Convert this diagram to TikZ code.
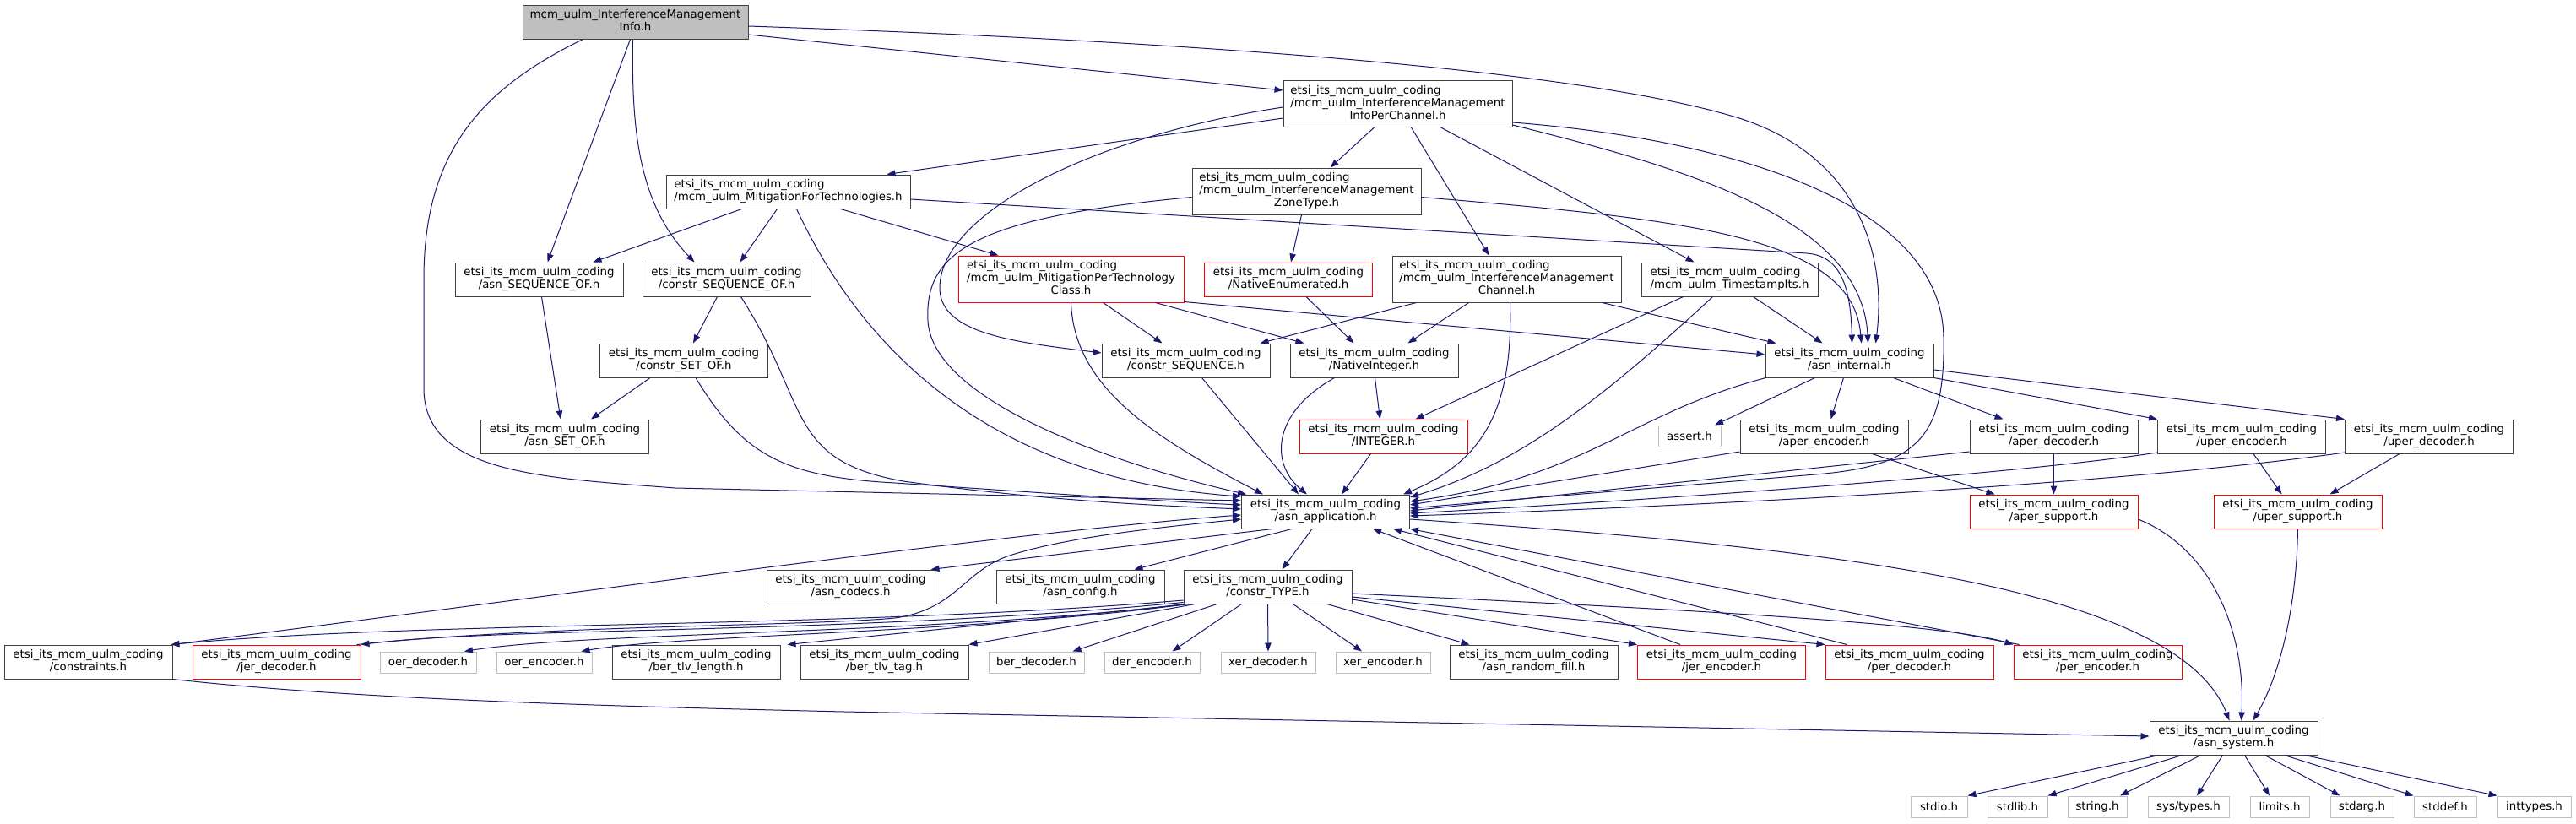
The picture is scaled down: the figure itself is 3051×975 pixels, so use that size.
\documentclass[tikz,border=0pt]{standalone}
\usepackage{fontspec}
\setmainfont{DejaVu Sans}
\usetikzlibrary{arrows.meta,calc}
\definecolor{edgec}{HTML}{191970}
\definecolor{boxc}{HTML}{404040}
\definecolor{greyb}{HTML}{BFBFBF}
\definecolor{rootf}{HTML}{BFBFBF}
\newcommand\twoln[2]{\begin{tabular}{@{}l@{}}#1\\\multicolumn{1}{@{}c@{}}{#2}\end{tabular}}
\newcommand\threeln[3]{\begin{tabular}{@{}l@{}}#1\\#2\\\multicolumn{1}{@{}c@{}}{#3}\end{tabular}}
\newcommand\eimc{etsi\_its\_mcm\_uulm\_coding}
\begin{document}
\begin{tikzpicture}[x=0.75pt,y=-0.75pt,font=\fontsize{10}{11.25}\selectfont,
  box/.style={draw=boxc,fill=white,line width=0.75pt,inner sep=0pt,minimum height=30pt,minimum width=149.25pt},
  tall/.style={minimum height=41.25pt},
  wd/.style={minimum width=#1*0.75pt},
  redb/.style={box,draw=red},
  greybox/.style={box,draw=greyb,minimum height=18.75pt},
  rootb/.style={box,fill=rootf},
  edg/.style={draw=edgec,line width=0.75pt,-{Triangle[length=7.5pt,width=5.5pt]}}]
\fill[white] (0,0) rectangle (3051,975);
\useasboundingbox (0,0) rectangle (3051,975);
% ---------- nodes ----------
\node[rootb,wd=267] (root) at (752.5,26) {\twoln{mcm\_uulm\_InterferenceManagement}{Info.h}};
\node[box,tall,wd=271] (ipc) at (1655.5,123) {\threeln{\eimc}{/mcm\_uulm\_InterferenceManagement}{InfoPerChannel.h}};
\node[box,wd=289] (mft) at (933.5,227) {\twoln{\eimc}{/mcm\_uulm\_MitigationForTechnologies.h}};
\node[box,tall,wd=271] (zone) at (1547.5,226.5) {\threeln{\eimc}{/mcm\_uulm\_InterferenceManagement}{ZoneType.h}};
\node[box] (seqof) at (638.5,331) {\twoln{\eimc}{/asn\_SEQUENCE\_OF.h}};
\node[box] (csqof) at (860.5,331) {\twoln{\eimc}{/constr\_SEQUENCE\_OF.h}};
\node[redb,tall,wd=267] (mptc) at (1268.5,330.5) {\threeln{\eimc}{/mcm\_uulm\_MitigationPerTechnology}{Class.h}};
\node[redb] (nenum) at (1526,331) {\twoln{\eimc}{/NativeEnumerated.h}};
\node[box,tall,wd=271] (imc) at (1784.5,330.5) {\threeln{\eimc}{/mcm\_uulm\_InterferenceManagement}{Channel.h}};
\node[box,wd=209] (ts) at (2048.5,331) {\twoln{\eimc}{/mcm\_uulm\_TimestampIts.h}};
\node[box] (csetof) at (810,427) {\twoln{\eimc}{/constr\_SET\_OF.h}};
\node[box] (cseq) at (1404.5,427) {\twoln{\eimc}{/constr\_SEQUENCE.h}};
\node[box] (nint) at (1627.5,427) {\twoln{\eimc}{/NativeInteger.h}};
\node[box] (aint) at (2190.5,427) {\twoln{\eimc}{/asn\_internal.h}};
\node[box] (setof) at (669,517) {\twoln{\eimc}{/asn\_SET\_OF.h}};
\node[redb] (integer) at (1638.5,517) {\twoln{\eimc}{/INTEGER.h}};
\node[greybox,wd=74] (assert) at (2001,516.5) {assert.h};
\node[box] (aenc) at (2160.5,517) {\twoln{\eimc}{/aper\_encoder.h}};
\node[box] (adec) at (2432.5,517) {\twoln{\eimc}{/aper\_decoder.h}};
\node[box] (uenc) at (2655,517) {\twoln{\eimc}{/uper\_encoder.h}};
\node[box] (udec) at (2877,517) {\twoln{\eimc}{/uper\_decoder.h}};
\node[box] (app) at (1570,606) {\twoln{\eimc}{/asn\_application.h}};
\node[redb] (asup) at (2432.5,606) {\twoln{\eimc}{/aper\_support.h}};
\node[redb] (usup) at (2721.5,606) {\twoln{\eimc}{/uper\_support.h}};
\node[box] (codecs) at (1007.5,695) {\twoln{\eimc}{/asn\_codecs.h}};
\node[box] (config) at (1279.5,695) {\twoln{\eimc}{/asn\_config.h}};
\node[box] (ctype) at (1501.5,695) {\twoln{\eimc}{/constr\_TYPE.h}};
\node[box] (cons) at (104.5,784) {\twoln{\eimc}{/constraints.h}};
\node[redb] (jdec) at (327.5,784) {\twoln{\eimc}{/jer\_decoder.h}};
\node[greybox,wd=114] (oerd) at (507,784.5) {oer\_decoder.h};
\node[greybox,wd=113] (oere) at (644.5,784.5) {oer\_encoder.h};
\node[box] (bertl) at (824.5,784) {\twoln{\eimc}{/ber\_tlv\_length.h}};
\node[box] (bertag) at (1047.5,784) {\twoln{\eimc}{/ber\_tlv\_tag.h}};
\node[greybox,wd=113] (berd) at (1227.5,784.5) {ber\_decoder.h};
\node[greybox,wd=113] (dere) at (1364.5,784.5) {der\_encoder.h};
\node[greybox,wd=112] (xerd) at (1502,784.5) {xer\_decoder.h};
\node[greybox,wd=112] (xere) at (1638,784.5) {xer\_encoder.h};
\node[box] (rnd) at (1816.5,784) {\twoln{\eimc}{/asn\_random\_fill.h}};
\node[redb] (jenc) at (2039,784) {\twoln{\eimc}{/jer\_encoder.h}};
\node[redb] (pdec) at (2261.5,784) {\twoln{\eimc}{/per\_decoder.h}};
\node[redb] (penc) at (2484.5,784) {\twoln{\eimc}{/per\_encoder.h}};
\node[box] (sys) at (2645.5,874) {\twoln{\eimc}{/asn\_system.h}};
\node[greybox,wd=67] (stdio) at (2296.5,955.5) {stdio.h};
\node[greybox,wd=71] (stdlib) at (2389.5,955.5) {stdlib.h};
\node[greybox,wd=70] (string) at (2484,955.5) {string.h};
\node[greybox,wd=96] (systypes) at (2592,955.5) {sys/types.h};
\node[greybox,wd=70] (limits) at (2700,955.5) {limits.h};
\node[greybox,wd=75] (stdarg) at (2797.5,955.5) {stdarg.h};
\node[greybox,wd=74] (stddef) at (2896,955.5) {stddef.h};
\node[greybox,wd=87] (inttypes) at (3001.5,955.5) {inttypes.h};
% ---------- edges: root ----------
\draw[edg] ($(root.south)+(-62,0)$) .. controls (570,105) and (502,180) .. (502,330) -- (502,460) .. controls (502,560) and (640,566) .. (800,578) -- ($(app.west)+(0,-13)$);
\draw[edg] ($(root.south)+(-6,0)$) -- ($(seqof.north)+(10,0)$);
\draw[edg] ($(root.south)+(-3,0)$) .. controls (748,150) and (755,240) .. ($(csqof.north)+(-38,0)$);
\draw[edg] ($(root.east)+(0,15)$) -- ($(ipc.west)+(0,-16)$);
\draw[edg] ($(root.east)+(0,5)$) .. controls (1300,45) and (1850,75) .. (2060,140) .. controls (2200,185) and (2235,300) .. ($(aint.north)+(31,0)$);
% ---------- InfoPerChannel ----------
\draw[edg] ($(ipc.east)+(0,22)$) .. controls (2050,165) and (2300,240) .. (2302,400) .. controls (2304,520) and (2270,552) .. (2150,562) -- ($(app.east)+(0,-4)$);
\draw[edg] ($(ipc.east)+(0,25)$) .. controls (2000,200) and (2205,260) .. ($(aint.north)+(22,0)$);
\draw[edg] ($(ipc.west)+(0,17)$) -- ($(mft.north)+(117,0)$);
\draw[edg] ($(ipc.west)+(0,4)$) .. controls (1300,160) and (1115,250) .. (1113,340) .. controls (1112,395) and (1200,405) .. ($(cseq.west)+(0,-9)$);
\draw[edg] ($(ipc.south)+(-28,0)$) -- ($(zone.north)+(28,0)$);
\draw[edg] ($(ipc.south)+(16,0)$) -- ($(imc.north)+(-21,0)$);
\draw[edg] ($(ipc.south)+(51,0)$) -- ($(ts.north)+(-42,0)$);
% ---------- MitigationForTechnologies ----------
\draw[edg] ($(mft.east)+(0,9)$) -- (2140,300) .. controls (2180,303) and (2192,340) .. ($(aint.north)+(3,0)$);
\draw[edg] ($(mft.south)+(-55,0)$) -- ($(seqof.north)+(64,0)$);
\draw[edg] ($(mft.south)+(-13,0)$) -- ($(csqof.north)+(16,0)$);
\draw[edg] ($(mft.south)+(10,0)$) .. controls (1010,390) and (1150,565) .. ($(app.west)+(0,-18)$);
\draw[edg] ($(mft.south)+(62,0)$) -- ($(mptc.north)+(-86,0)$);
% ---------- ZoneType ----------
\draw[edg] ($(zone.south)+(-6,0)$) -- ($(nenum.north)+(3,0)$);
\draw[edg] ($(zone.west)+(0,7)$) .. controls (1150,258) and (1095,300) .. (1099,380) .. controls (1104,470) and (1300,545) .. ($(app.north west)+(6,0)$);
\draw[edg] ($(zone.east)+(0,7)$) .. controls (2000,260) and (2195,280) .. ($(aint.north)+(14,0)$);
% ---------- MitigationPerTechnologyClass ----------
\draw[edg] (mptc.south) .. controls (1272,460) and (1370,520) .. ($(app.north west)+(26,0)$);
\draw[edg] ($(mptc.south)+(38,0)$) -- ($(cseq.north)+(-28,0)$);
\draw[edg] ($(mptc.south)+(100,0)$) -- ($(nint.north)+(-83,0)$);
\draw[edg] ($(mptc.east)+(0,27)$) -- ($(aint.west)+(0,-7)$);
% ---------- IMChannel ----------
\draw[edg] ($(imc.south)+(-107,0)$) -- ($(cseq.north)+(88,0)$);
\draw[edg] ($(imc.south)+(-45,0)$) -- ($(nint.north)+(40,0)$);
\draw[edg] ($(imc.south)+(4,0)$) .. controls (1792,480) and (1760,545) .. ($(app.north east)+(-8,0)$);
\draw[edg] ($(imc.south)+(113,0)$) -- ($(aint.north west)+(13,0)$);
% ---------- TimestampIts ----------
\draw[edg] ($(ts.south)+(-55,0)$) -- ($(integer.north)+(38,0)$);
\draw[edg] ($(ts.south)+(-20,0)$) .. controls (1900,470) and (1800,550) .. ($(app.east)+(0,-17)$);
\draw[edg] ($(ts.south)+(28,0)$) -- ($(aint.north)+(-32,0)$);
% ---------- small ones ----------
\draw[edg] ($(nenum.south)+(21,0)$) -- ($(nint.north)+(-24,0)$);
\draw[edg] ($(nint.south)+(1,0)$) -- ($(integer.north)+(-4,0)$);
\draw[edg] ($(nint.south)+(-47,0)$) .. controls (1505,490) and (1505,550) .. ($(app.north)+(-22,0)$);
\draw[edg] ($(integer.south)+(-15,0)$) -- ($(app.north)+(19,0)$);
\draw[edg] ($(cseq.south)+(19,0)$) -- ($(app.north)+(-32,0)$);
\draw[edg] ($(csqof.south)+(-11,0)$) -- ($(csetof.north)+(11,0)$);
\draw[edg] ($(csqof.south)+(17,0)$) .. controls (960,480) and (930,545) .. (1070,570) .. controls (1250,595) and (1400,600) .. ($(app.west)+(0,-3)$);
\draw[edg] ($(csetof.south)+(-40,0)$) -- ($(setof.north)+(31,0)$);
\draw[edg] ($(csetof.south)+(14,0)$) .. controls (880,540) and (930,565) .. (1060,572) .. controls (1250,585) and (1400,595) .. ($(app.west)+(0,-8)$);
\draw[edg] ($(seqof.south)+(3,0)$) -- ($(setof.north)+(-5,0)$);
% ---------- asn_internal ----------
\draw[edg] ($(aint.south west)+(1,0)$) .. controls (1930,490) and (1880,565) .. ($(app.east)+(0,-12)$);
\draw[edg] ($(aint.south)+(-41,0)$) -- ($(assert.north)+(30,0)$);
\draw[edg] ($(aint.south)+(-7,0)$) -- ($(aenc.north)+(8,0)$);
\draw[edg] ($(aint.south)+(52,0)$) -- ($(adec.north)+(-60,0)$);
\draw[edg] (aint.south east) -- (uenc.north west);
\draw[edg] ($(aint.east)+(0,11)$) -- (udec.north west);
% ---------- encoders / decoders ----------
\draw[edg] ($(aenc.west)+(0,18)$) -- ($(app.east)+(0,-8)$);
\draw[edg] ($(aenc.south)+(57,0)$) -- ($(asup.north)+(-70,0)$);
\draw[edg] ($(adec.west)+(0,18)$) -- ($(app.east)+(0,-1)$);
\draw[edg] (adec.south) -- (asup.north);
\draw[edg] ($(uenc.west)+(0,19)$) .. controls (2400,560) and (2000,590) .. ($(app.east)+(0,2)$);
\draw[edg] ($(uenc.south)+(14,0)$) -- ($(usup.north)+(-19,0)$);
\draw[edg] ($(udec.west)+(0,19)$) .. controls (2500,575) and (2000,600) .. ($(app.east)+(0,5)$);
\draw[edg] ($(udec.south)+(-35,0)$) -- ($(usup.north)+(38,0)$);
\draw[edg] ($(asup.east)+(0,9)$) .. controls (2620,650) and (2660,750) .. ($(sys.north)+(9,0)$);
\draw[edg] (usup.south) .. controls (2720,720) and (2700,800) .. ($(sys.north)+(23,0)$);
% ---------- asn_application ----------
\draw[edg] ($(app.east)+(0,9)$) .. controls (2200,650) and (2580,700) .. ($(sys.north)+(-5,0)$);
\draw[edg] ($(app.south)+(-63,0)$) -- ($(codecs.north east)+(-5,0)$);
\draw[edg] ($(app.south)+(-40,0)$) -- ($(config.north)+(64,0)$);
\draw[edg] ($(app.south)+(-16,0)$) -- ($(ctype.north)+(17,0)$);
% ---------- constraints / jer_decoder ----------
\draw[edg] (cons.north east) .. controls (700,700) and (1200,630) .. ($(app.west)+(0,4)$);
\draw[edg] ($(jdec.north east)+(-5,0)$) .. controls (650,740) and (950,742) .. (1060,732) .. controls (1130,722) and (1140,680) .. (1190,660) .. controls (1260,635) and (1400,622) .. ($(app.west)+(0,9)$);
\draw[edg] (cons.south east) .. controls (420,828) and (700,836) .. (1000,843) -- ($(sys.west)+(0,-2)$);
% ---------- constr_TYPE ----------
\draw[edg] ($(ctype.west)+(0,16)$) .. controls (1000,745) and (500,735) .. ($(cons.north east)+(-2,0)$);
\draw[edg] ($(ctype.south west)+(0,-2)$) .. controls (1000,752) and (600,742) .. (jdec.north east);
\draw[edg] ($(ctype.south west)+(2,0)$) .. controls (1100,752) and (700,748) .. ($(oerd.north)+(43,0)$);
\draw[edg] ($(ctype.south west)+(5,0)$) .. controls (1150,750) and (800,752) .. ($(oere.north)+(44,0)$);
\draw[edg] ($(ctype.south west)+(8,0)$) -- ($(bertl.north)+(108,0)$);
\draw[edg] ($(ctype.south)+(-86,0)$) -- (bertag.north east);
\draw[edg] ($(ctype.south)+(-60,0)$) -- ($(berd.north)+(43,0)$);
\draw[edg] ($(ctype.south)+(-31,0)$) -- ($(dere.north)+(24,0)$);
\draw[edg] (ctype.south) -- (xerd.north);
\draw[edg] ($(ctype.south)+(30,0)$) -- ($(xere.north)+(-25,0)$);
\draw[edg] ($(ctype.south)+(70,0)$) -- ($(rnd.north)+(-76,0)$);
\draw[edg] ($(ctype.east)+(0,15)$) -- (jenc.north west);
\draw[edg] ($(ctype.east)+(0,12)$) -- (pdec.north west);
\draw[edg] ($(ctype.east)+(0,8)$) .. controls (2000,722) and (2300,738) .. (penc.north west);
% ---------- back to asn_application ----------
\draw[edg] ($(jenc.north)+(-49,0)$) -- ($(app.south)+(56,0)$);
\draw[edg] ($(pdec.north)+(-74,0)$) -- ($(app.south)+(80,0)$);
\draw[edg] ($(penc.north west)+(7,0)$) -- (app.south east);
% ---------- asn_system ----------
\draw[edg] ($(sys.south)+(-88,0)$) -- (stdio.north east);
\draw[edg] ($(sys.south)+(-61,0)$) -- (stdlib.north east);
\draw[edg] ($(sys.south)+(-39,0)$) -- ($(string.north)+(27,0)$);
\draw[edg] ($(sys.south)+(-13,0)$) -- ($(systypes.north)+(10,0)$);
\draw[edg] ($(sys.south)+(13,0)$) -- ($(limits.north)+(-12,0)$);
\draw[edg] ($(sys.south)+(37,0)$) -- ($(stdarg.north)+(-26,0)$);
\draw[edg] ($(sys.south)+(60,0)$) -- (stddef.north west);
\draw[edg] ($(sys.south)+(84,0)$) -- (inttypes.north west);
\end{tikzpicture}
\end{document}
